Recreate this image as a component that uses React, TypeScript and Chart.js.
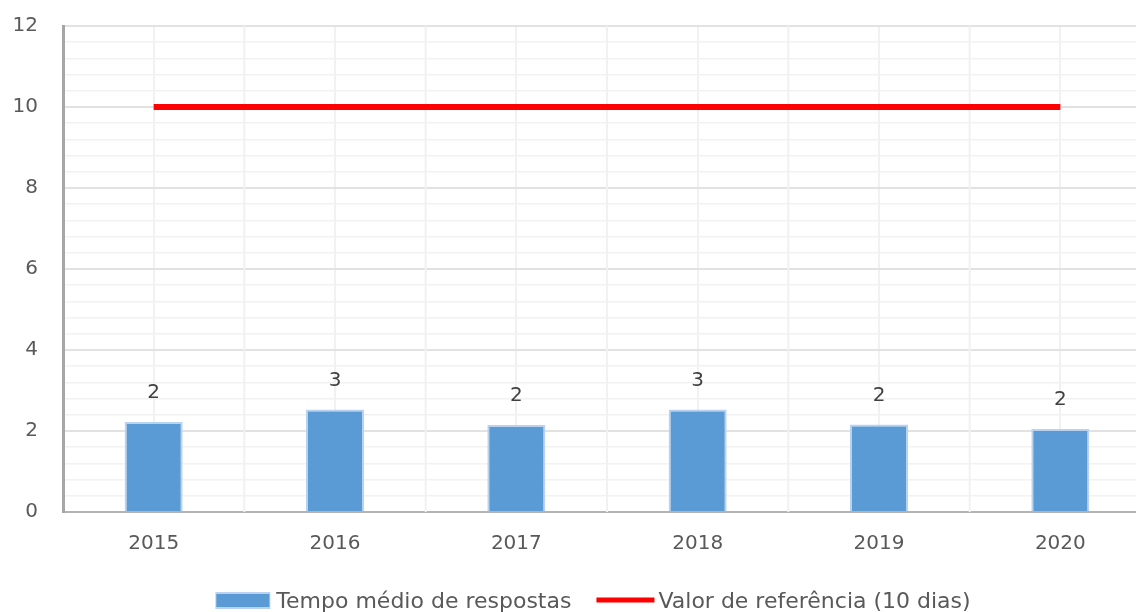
import React, { useEffect, useRef } from "react";
import { Chart, registerables } from "chart.js";

Chart.register(...registerables);

const categories = ["2015", "2016", "2017", "2018", "2019", "2020"];
const tempoMedio = [2.22, 2.53, 2.15, 2.53, 2.16, 2.05];
const valorReferencia = [10, 10, 10, 10, 10, 10];
const seriesLabels = ["Tempo médio de respostas", "Valor de referência (10 dias)"];
const yMin = 0;
const yMax = 12;
const yMinorStep = 0.4;
const yMajorStep = 2;

const FONT = "'DejaVu Sans', sans-serif";
const BAR_COLOR = "#5b9bd5";
const BAR_EDGE = "#b9d3ee";
const LINE_COLOR = "#ff0000";

const isMajor = (v: number) => Math.abs(v / yMajorStep - Math.round(v / yMajorStep)) < 1e-6;

const boundaryGrid = {
  id: "boundaryGrid",
  beforeDatasetsDraw(chart: any) {
    const { ctx, chartArea } = chart;
    const x = chart.scales.x;
    const n = chart.data.labels.length;
    const step = (chartArea.right - chartArea.left) / n;
    ctx.save();
    ctx.strokeStyle = "#f1f1f1";
    ctx.lineWidth = 2;
    for (let i = 0; i < n; i++) {
      const px = x.getPixelForValue(i) + step / 2;
      if (px >= chartArea.right - 2) continue;
      ctx.beginPath();
      ctx.moveTo(px, chartArea.top);
      ctx.lineTo(px, chartArea.bottom);
      ctx.stroke();
    }
    ctx.restore();
  },
};

const valueLabels = {
  id: "valueLabels",
  afterDatasetsDraw(chart: any) {
    const { ctx } = chart;
    const meta = chart.getDatasetMeta(0);
    const data = chart.data.datasets[0].data as number[];
    ctx.save();
    ctx.font = `20px ${FONT}`;
    ctx.fillStyle = "#404040";
    ctx.textAlign = "center";
    ctx.textBaseline = "middle";
    meta.data.forEach((el: any, i: number) => {
      ctx.fillText(String(Math.round(data[i])), el.x, el.y - 29);
    });
    ctx.restore();
  },
};

const customLegend = {
  id: "customLegend",
  afterDraw(chart: any) {
    const { ctx } = chart;
    const ds = chart.data.datasets;
    ctx.save();
    ctx.font = `22px ${FONT}`;
    const boxW = 55;
    const lineW = 58;
    const gapText = 6;
    const gapItems = 25;
    const w1 = ctx.measureText(ds[0].label).width;
    const w2 = ctx.measureText(ds[1].label).width;
    const total = boxW + gapText + w1 + gapItems + lineW + 4 + w2;
    const cx = 593;
    let x = cx - total / 2;
    const cy = 600;
    ctx.fillStyle = BAR_EDGE;
    ctx.fillRect(x, cy - 8, boxW, 17);
    ctx.fillStyle = BAR_COLOR;
    ctx.fillRect(x + 1, cy - 6, boxW - 2, 13);
    x += boxW + gapText;
    ctx.fillStyle = "#595959";
    ctx.textBaseline = "alphabetic";
    ctx.fillText(ds[0].label, x, 608);
    x += w1 + gapItems;
    ctx.fillStyle = LINE_COLOR;
    ctx.fillRect(x, cy - 2.5, lineW, 5);
    x += lineW + 4;
    ctx.fillStyle = "#595959";
    ctx.fillText(ds[1].label, x, 608);
    ctx.restore();
  },
};

export default function App() {
  const ref = useRef<HTMLCanvasElement | null>(null);
  useEffect(() => {
    document.body.style.overflow = "hidden";
    const canvas = ref.current!;
    const chart = new Chart(canvas, {
      type: "bar",
      data: {
        labels: categories,
        datasets: [
          {
            type: "bar",
            label: seriesLabels[0],
            data: tempoMedio,
            backgroundColor: BAR_COLOR,
            borderColor: BAR_EDGE,
            borderWidth: 2,
            barPercentage: 0.32,
            categoryPercentage: 1,
            order: 2,
          },
          {
            type: "line",
            label: seriesLabels[1],
            data: valorReferencia,
            borderColor: LINE_COLOR,
            backgroundColor: LINE_COLOR,
            borderWidth: 6,
            pointRadius: 0,
            fill: false,
            order: 1,
          },
        ] as any,
      },
      options: {
        animation: false,
        responsive: true,
        maintainAspectRatio: false,
        layout: { padding: { top: 26, right: 1, left: 0, bottom: 40 } },
        plugins: {
          legend: { display: false },
          tooltip: { enabled: false },
        },
        scales: {
          x: {
            grid: { offset: false, color: "#f1f1f1", lineWidth: 2, drawTicks: false },
            border: { display: true, color: "#b3b3b3", width: 2 },
            ticks: { font: { family: FONT, size: 20 }, color: "#595959", padding: 20 },
            afterFit: (s: any) => {
              s.height = 60;
              s.paddingLeft = 0;
              s.paddingRight = 0;
            },
          },
          y: {
            min: yMin,
            max: yMax,
            grid: {
              drawTicks: false,
              color: (c: any) => (isMajor(c.tick.value) ? "#e2e2e2" : "#f2f2f2"),
              lineWidth: (c: any) => (isMajor(c.tick.value) ? 2 : 1.5),
            },
            border: { display: true, color: "#a6a6a6", width: 3 },
            ticks: {
              stepSize: yMinorStep,
              autoSkip: false,
              font: { family: FONT, size: 20 },
              color: "#595959",
              padding: 25,
              callback: (v: any) => (isMajor(Number(v)) ? String(Math.round(Number(v))) : ""),
            },
            afterFit: (s: any) => {
              s.width = 63;
              s.paddingTop = 0;
              s.paddingBottom = 0;
            },
          },
        },
      },
      plugins: [boundaryGrid, valueLabels, customLegend],
    });
    return () => chart.destroy();
  }, []);
  return (
    <div style={{ position: "absolute", left: 0, top: 0, width: 1152, height: 612, background: "#fff" }}>
      <canvas ref={ref} />
    </div>
  );
}
